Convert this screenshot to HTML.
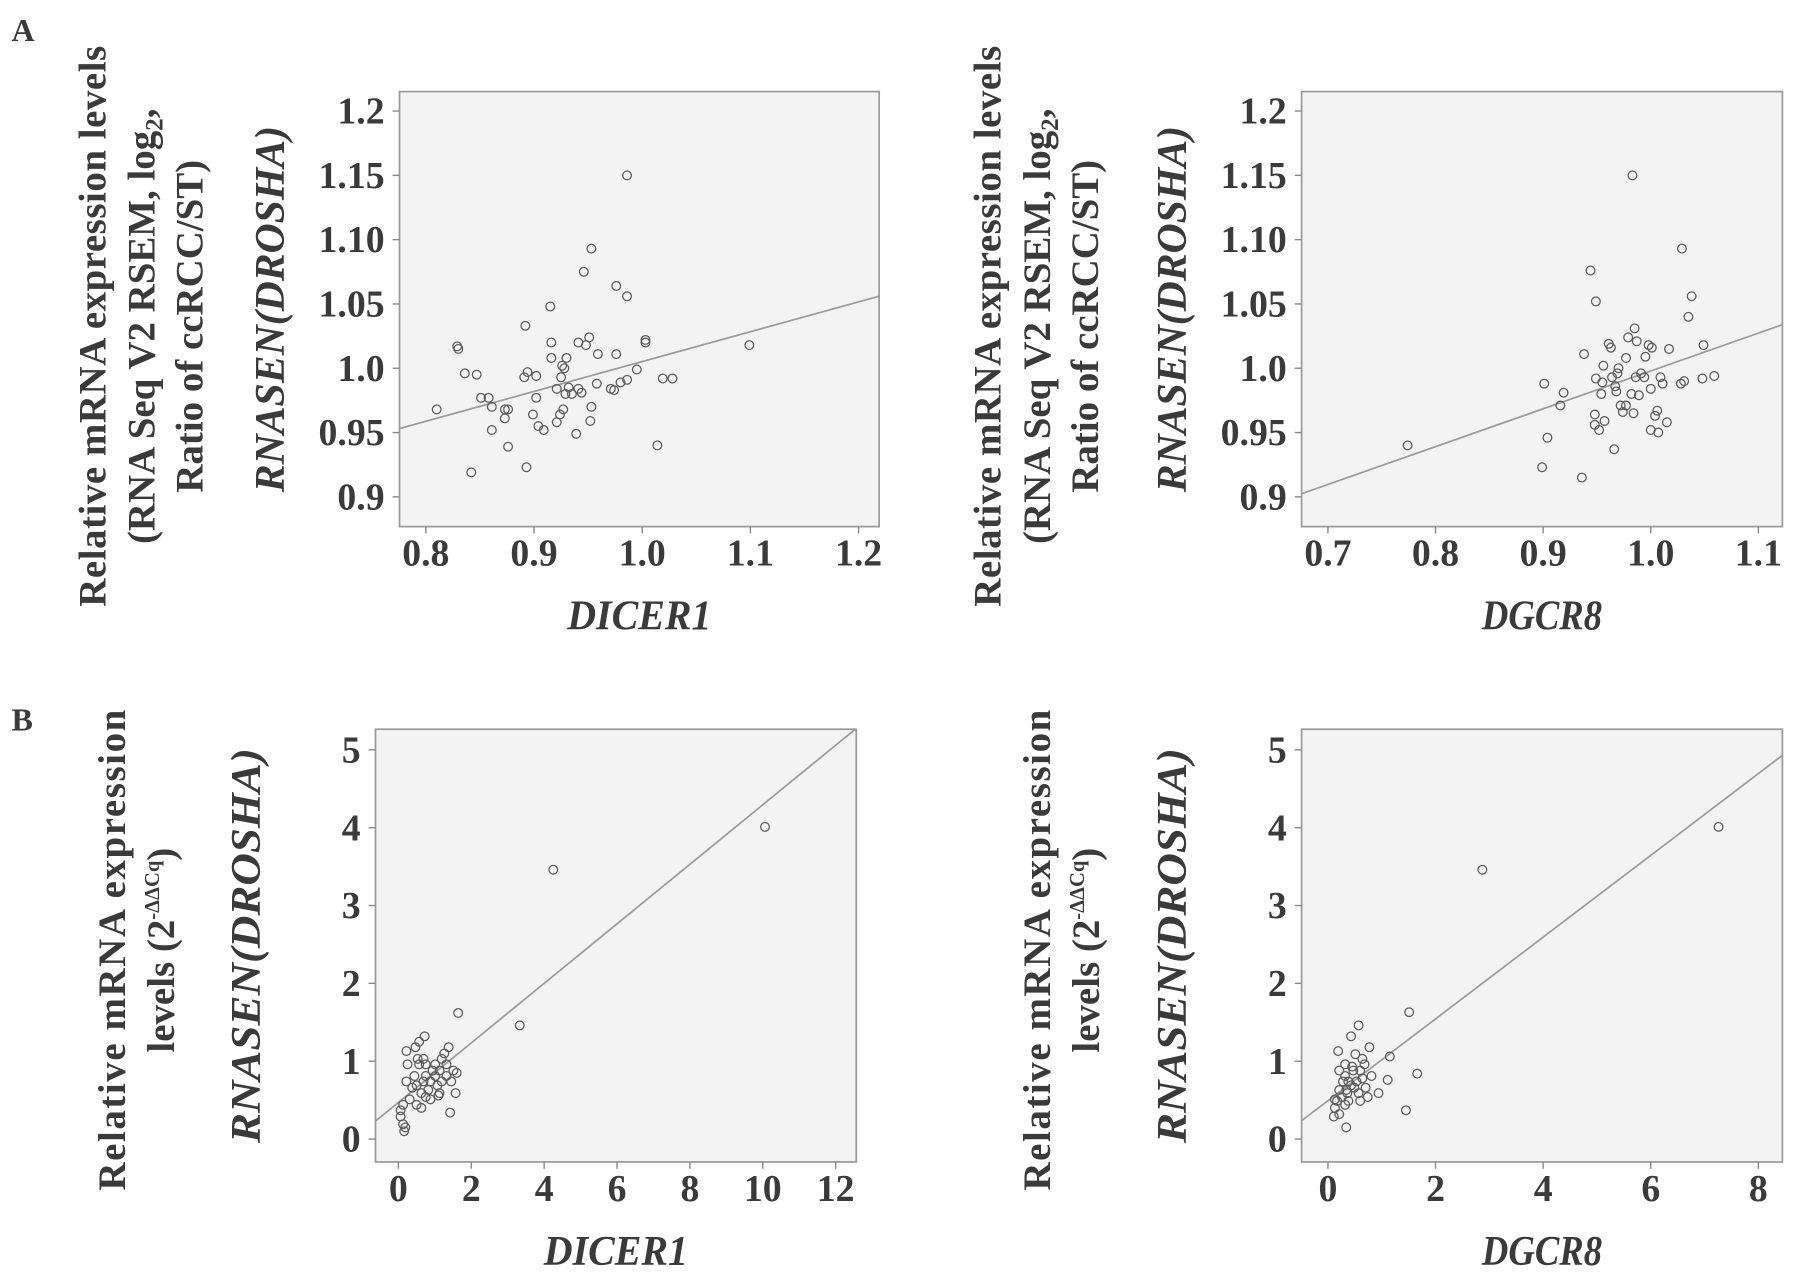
<!DOCTYPE html>
<html><head><meta charset="utf-8"><style>
html,body{margin:0;padding:0;background:#fff;}
svg{display:block;}
text{font-family:"Liberation Serif",serif;fill:#3a3a3a;}
</style></head><body>
<svg id="fig" width="1795" height="1273" viewBox="0 0 1568 1112" xmlns="http://www.w3.org/2000/svg">
<text x="10" y="36" font-size="28" font-weight="bold">A</text>
<text x="10" y="638" font-size="28" font-weight="bold">B</text>
<g font-size="34" font-weight="bold" text-anchor="middle">
<text transform="translate(92,285) rotate(-90)" textLength="490" lengthAdjust="spacing">Relative mRNA expression levels</text>
<text transform="translate(135,285) rotate(-90)">(RNA Seq V2 RSEM, log<tspan font-size="22" dy="7">2</tspan><tspan dy="-7">,</tspan></text>
<text transform="translate(177,285) rotate(-90)">Ratio of ccRCC/ST)</text>
</g>
<g font-size="34" font-weight="bold" text-anchor="middle">
<text transform="translate(874,285) rotate(-90)" textLength="490" lengthAdjust="spacing">Relative mRNA expression levels</text>
<text transform="translate(917,285) rotate(-90)">(RNA Seq V2 RSEM, log<tspan font-size="22" dy="7">2</tspan><tspan dy="-7">,</tspan></text>
<text transform="translate(959,285) rotate(-90)">Ratio of ccRCC/ST)</text>
</g>
<g font-size="34" font-weight="bold" text-anchor="middle">
<text transform="translate(109,830) rotate(-90)" textLength="420" lengthAdjust="spacing">Relative mRNA expression</text>
<text transform="translate(152,830) rotate(-90)">levels (2<tspan font-size="18" dy="-13">-ΔΔCq</tspan><tspan dy="13">)</tspan></text>
</g>
<g font-size="34" font-weight="bold" text-anchor="middle">
<text transform="translate(917,830) rotate(-90)" textLength="420" lengthAdjust="spacing">Relative mRNA expression</text>
<text transform="translate(960,830) rotate(-90)">levels (2<tspan font-size="18" dy="-13">-ΔΔCq</tspan><tspan dy="13">)</tspan></text>
</g>
</svg>
<script>
// Panel A1: DICER1 vs RNASEN(DROSHA), TCGA
const a1X=[0.829,0.830,0.836,0.847,0.842,0.810,0.851,0.858,0.861,0.873,0.873,0.861,0.876,0.893,0.892,0.891,0.894,0.902,0.902,0.899,0.904,0.909,0.915,0.916,0.916,0.921,0.921,0.924,0.926,0.928,0.930,0.932,0.929,0.927,0.941,0.941,0.944,0.939,0.946,0.948,0.953,0.952,0.953,0.959,0.958,0.971,0.974,0.976,0.976,0.980,0.986,0.986,0.986,0.995,1.003,1.003,1.014,1.019,1.028,1.099,0.951,0.925,0.876,0.935];
const a1Y=[1.017,1.015,0.996,0.995,0.919,0.968,0.977,0.977,0.952,0.961,0.968,0.970,0.939,0.923,1.033,0.993,0.997,0.994,0.977,0.964,0.955,0.952,1.048,1.020,1.008,0.984,0.958,0.964,1.002,1.000,1.008,0.985,0.980,0.968,1.020,0.984,0.981,0.949,1.075,1.018,1.093,0.959,0.970,1.011,0.988,0.984,0.983,1.064,1.011,0.989,1.150,1.056,0.991,0.999,1.022,1.020,0.940,0.992,0.992,1.018,1.024,0.993,0.968,0.980];
const a1XTicks=[0.8,0.9,1.0,1.1,1.2];
const a1XTickLabels=["0.8","0.9","1.0","1.1","1.2"];
const aYTicks=[0.9,0.95,1.0,1.05,1.10,1.15,1.2];
const aYTickLabels=["0.9","0.95","1.0","1.05","1.10","1.15","1.2"];
// Panel A2: DGCR8
const a2X=[0.774,0.899,0.904,0.901,0.919,0.916,0.936,0.938,0.944,0.949,0.948,0.948,0.949,0.952,0.954,0.956,0.957,0.961,0.963,0.964,0.966,0.967,0.968,0.969,0.970,0.972,0.974,0.977,0.977,0.979,0.982,0.984,0.985,0.986,0.987,0.989,0.991,0.994,0.995,0.998,1.000,1.000,1.001,1.004,1.006,1.007,1.009,1.011,1.015,1.017,1.029,1.028,1.031,1.035,1.038,1.049,1.048,1.059,0.983,0.955];
const a2Y=[0.940,0.923,0.946,0.988,0.981,0.971,0.915,1.011,1.076,1.052,0.964,0.956,0.992,0.952,0.980,1.002,0.959,1.019,1.016,0.993,0.937,0.986,0.982,0.996,1.000,0.971,0.966,0.971,1.008,1.024,0.980,0.965,1.031,0.993,1.021,0.979,0.996,0.993,1.009,1.018,0.952,0.984,1.016,0.963,0.967,0.950,0.993,0.988,0.958,1.015,1.093,0.988,0.990,1.040,1.056,1.018,0.992,0.994,1.150,0.989];
const a2XTicks=[0.7,0.8,0.9,1.0,1.1];
const a2XTickLabels=["0.7","0.8","0.9","1.0","1.1"];
// Panel B1: DICER1 qPCR
const b1X=[10.06,4.25,3.33,1.64,0.06,0.06,0.13,0.13,0.22,0.22,0.25,0.31,0.38,0.44,0.50,0.50,0.57,0.63,0.69,0.75,0.47,0.53,0.69,0.75,0.82,0.88,0.94,1.01,1.07,1.13,1.19,0.72,0.57,0.63,1.01,1.19,1.32,1.45,1.57,1.38,1.26,1.51,1.13,0.75,1.10,1.32,0.88,1.60,1.42,0.19,0.16];
const b1Y=[4.01,3.46,1.46,1.62,0.29,0.37,0.44,0.19,0.74,1.13,0.96,0.51,0.66,0.81,0.69,0.44,0.96,0.59,0.74,0.54,1.18,1.03,1.03,0.81,0.63,0.74,0.88,0.81,0.69,0.88,0.74,1.32,1.25,0.40,0.96,1.03,0.96,0.74,0.59,1.18,1.10,0.88,0.59,0.96,0.56,0.81,0.51,0.85,0.34,0.15,0.10];
const b1XTicks=[0,2,4,6,8,10,12];
const b1XTickLabels=["0","2","4","6","8","10","12"];
const bYTicks=[0,1,2,3,4,5];
const bYTickLabels=["0","1","2","3","4","5"];
// Panel B2: DGCR8 qPCR
const b2X=[7.26,2.87,1.51,1.66,1.45,1.15,1.11,0.57,0.43,0.77,0.51,0.19,0.21,0.32,0.45,0.60,0.68,0.81,0.70,0.64,0.53,0.43,0.36,0.26,0.17,0.13,0.11,0.21,0.32,0.38,0.32,0.38,0.28,0.49,0.57,0.74,0.94,0.60,0.34,0.47,0.64,0.34,0.21,0.13];
const b2Y=[4.01,3.46,1.63,0.84,0.37,1.06,0.76,1.46,1.32,1.18,1.09,1.13,0.88,0.96,0.93,0.88,0.96,0.81,0.66,0.78,0.74,0.69,0.59,0.54,0.49,0.40,0.29,0.32,0.44,0.49,0.81,0.74,0.74,0.66,0.59,0.54,0.59,0.49,0.15,0.88,1.03,0.63,0.63,0.51];
const b2XTicks=[0,2,4,6,8];
const b2XTickLabels=["0","2","4","6","8"];

const NS="http://www.w3.org/2000/svg";
const svg=document.getElementById('fig');
function mk(tag,attrs,parent){const e=document.createElementNS(NS,tag);for(const k in attrs)e.setAttribute(k,attrs[k]);(parent||svg).appendChild(e);return e;}

function plot(id,box,xDom,yDom,xs,ys,xt,xtl,yt,ytl,xName,yLen){
  const sx=v=>box.x0px+(v-xDom[0])*(box.x1px-box.x0px)/(xDom[1]-xDom[0]);
  const sy=v=>box.y0px-(v-yDom[0])*(box.y0px-box.y1px)/(yDom[1]-yDom[0]);
  const g=mk('g',{});
  
  
  const fr=mk('rect',{x:box.l,y:box.t,width:box.r-box.l,height:box.b-box.t,fill:'#f3f3f3',stroke:'#9a9a9a','stroke-width':1.5},g);
  
  
  const cp=mk('clipPath',{id:id+'-clip'},g);
  mk('rect',{x:box.l,y:box.t,width:box.r-box.l,height:box.b-box.t},cp);
  yt.forEach((v,i)=>{
    const y=sy(v);
    const tk=mk('line',{x1:box.l-6,x2:box.l,y1:y,y2:y,stroke:'#888','stroke-width':1.2},g);
    
    
    const t=mk('text',{x:box.l-13,y:y+11,'font-size':33,'font-weight':'bold','text-anchor':'end'},g);
    t.textContent=ytl[i];
    
    
  });
  xt.forEach((v,i)=>{
    const x=sx(v);
    const tk=mk('line',{x1:x,x2:x,y1:box.b,y2:box.b+6,stroke:'#888','stroke-width':1.2},g);
    
    
    const t=mk('text',{x:x,y:box.b+34,'font-size':33,'font-weight':'bold','text-anchor':'middle'},g);
    t.textContent=xtl[i];
    
    
  });
  const n=xs.length;let mx=0,my=0;for(let i=0;i<n;i++){mx+=xs[i];my+=ys[i];}mx/=n;my/=n;
  let sxy=0,sxx=0;for(let i=0;i<n;i++){sxy+=(xs[i]-mx)*(ys[i]-my);sxx+=(xs[i]-mx)*(xs[i]-mx);}
  const sl=sxy/sxx,ic=my-sl*mx;
  const xa=xDom[0]-(sx(xDom[0])-box.l)/(box.x1px-box.x0px)*(xDom[1]-xDom[0]);
  const xb=xDom[0]+(box.r-box.x0px)/(box.x1px-box.x0px)*(xDom[1]-xDom[0]);
  const ln=mk('line',{x1:sx(xa),y1:sy(ic+sl*xa)+box.lineShift,x2:sx(xb),y2:sy(ic+sl*xb)+box.lineShift,stroke:'#9a9a9a','stroke-width':1.5,'clip-path':'url(#'+id+'-clip)'},g);
  
  
  for(let i=0;i<n;i++){
    const c=mk('circle',{cx:sx(xs[i]),cy:sy(ys[i]),r:3.8,fill:'none',stroke:'#5a5a5a','stroke-width':1.1},g);
    
    
  }
  const xl=mk('text',{x:(box.l+box.r)/2,y:box.b+90,'font-size':37,'font-weight':'bold','font-style':'italic','text-anchor':'middle',textLength:xName.length*21,lengthAdjust:'spacingAndGlyphs'},g);
  xl.textContent=xName;
  
  
  const yl=mk('text',{transform:'translate('+(box.l-101)+','+((box.t+box.b)/2)+') rotate(-90)','font-size':37,'font-weight':'bold','font-style':'italic','text-anchor':'middle',textLength:yLen,lengthAdjust:'spacingAndGlyphs'},g);
  yl.textContent='RNASEN(DROSHA)';
  
  
}
plot('a1',{l:349,r:768,t:80,b:460,x0px:372,x1px:750,y0px:434,y1px:97,lineShift:6},[0.8,1.2],[0.9,1.2],a1X,a1Y,a1XTicks,a1XTickLabels,aYTicks,aYTickLabels,'DICER1',320);
plot('a2',{l:1137,r:1557,t:80,b:460,x0px:1160,x1px:1536,y0px:434,y1px:97,lineShift:2},[0.7,1.1],[0.9,1.2],a2X,a2Y,a2XTicks,a2XTickLabels,aYTicks,aYTickLabels,'DGCR8',320);
plot('b1',{l:328,r:748,t:637,b:1015,x0px:348,x1px:730,y0px:995,y1px:655,lineShift:0},[0,12],[0,5],b1X,b1Y,b1XTicks,b1XTickLabels,bYTicks,bYTickLabels,'DICER1',345);
plot('b2',{l:1137,r:1557,t:637,b:1015,x0px:1160,x1px:1536,y0px:995,y1px:655,lineShift:0},[0,8],[0,5],b2X,b2Y,b2XTicks,b2XTickLabels,bYTicks,bYTickLabels,'DGCR8',345);
</script>
</body></html>
